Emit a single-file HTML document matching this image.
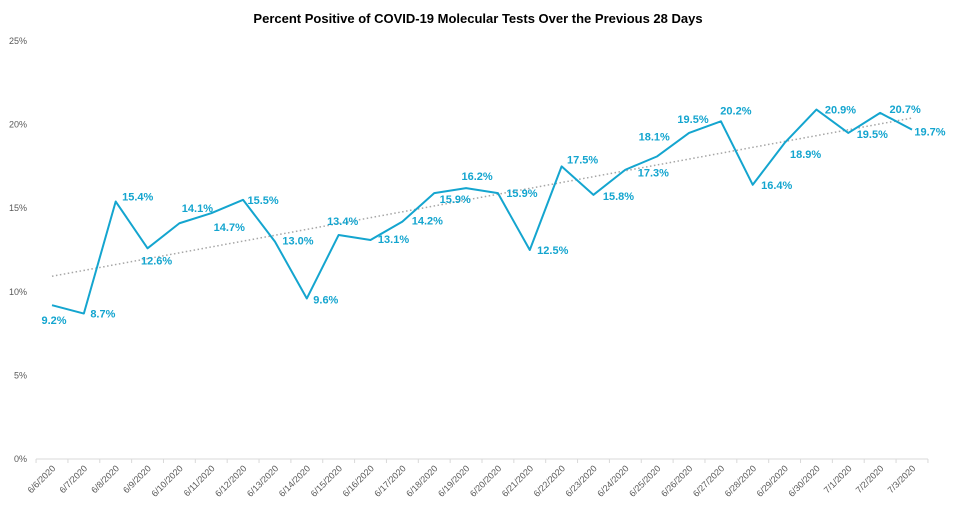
<!DOCTYPE html>
<html><head><meta charset="utf-8"><style>
body{margin:0;background:#fff;font-family:"Liberation Sans",sans-serif}
</style></head><body>
<svg id="chart" width="955" height="519" xmlns="http://www.w3.org/2000/svg"></svg>
<script>
const categories=["6/6/2020","6/7/2020","6/8/2020","6/9/2020","6/10/2020","6/11/2020","6/12/2020","6/13/2020","6/14/2020","6/15/2020","6/16/2020","6/17/2020","6/18/2020","6/19/2020","6/20/2020","6/21/2020","6/22/2020","6/23/2020","6/24/2020","6/25/2020","6/26/2020","6/27/2020","6/28/2020","6/29/2020","6/30/2020","7/1/2020","7/2/2020","7/3/2020"];
const values=[9.2,8.7,15.4,12.6,14.1,14.7,15.5,13.0,9.6,13.4,13.1,14.2,15.9,16.2,15.9,12.5,17.5,15.8,17.3,18.1,19.5,20.2,16.4,18.9,20.9,19.5,20.7,19.7];
const yTicks=[0,5,10,15,20,25];
const labelDx=[2,19,22,9,18,18,20,23,19,4,23,25,21,11,24,23,21,25,28,-3,4,15,24,21,24,24,25,18];
const labelDy=[19,4,-1,16,-11,18,4,3,5,-10,3,3,10,-8,4,4,-3,5,7,-16,-10,-7,4,15,4,5,0,6];
const svg=document.getElementById('chart');
const NS="http://www.w3.org/2000/svg";
const x0=52,x1=912,yb=459,yt=41;
const step=(x1-x0)/(categories.length-1);
const X=i=>x0+i*step;
const Y=v=>yb-(v/25)*(yb-yt);
function mk(t,a,txt){const e=document.createElementNS(NS,t);for(const k in a)e.setAttribute(k,a[k]);if(txt!=null)e.textContent=txt;svg.appendChild(e);return e;}
let e=mk('text',{x:478,y:23,'text-anchor':'middle','font-size':'13','font-weight':'bold',fill:'#000'},'Percent Positive of COVID-19 Molecular Tests Over the Previous 28 Days');


yTicks.forEach(t=>{const l=mk('text',{x:27,y:Y(t)+3,'text-anchor':'end','font-size':'9',fill:'#595959'},t+'%');

});
e=mk('line',{x1:X(0)-step/2,x2:X(categories.length-1)+step/2,y1:yb,y2:yb,stroke:'#d9d9d9','stroke-width':1});


for(let i=0;i<=categories.length;i++){const t=mk('line',{x1:X(i)-step/2,x2:X(i)-step/2,y1:yb,y2:yb+4,stroke:'#d9d9d9','stroke-width':1});

}
categories.forEach((c,i)=>{const x=X(i);const l=mk('text',{x:0,y:0,'text-anchor':'end','font-size':'9',fill:'#595959',transform:`translate(${x+4},${yb+10}) rotate(-45)`},c);

});
const n=values.length;let sx=0,sy=0,sxy=0,sxx=0;values.forEach((v,i)=>{sx+=i;sy+=v;sxy+=i*v;sxx+=i*i;});
const m=(n*sxy-sx*sy)/(n*sxx-sx*sx),b=(sy-m*sx)/n;
e=mk('line',{x1:X(0),y1:Y(b),x2:X(n-1),y2:Y(b+m*(n-1)),stroke:'#a6a6a6','stroke-width':1.5,'stroke-dasharray':'1.5 2.5'});


e=mk('polyline',{points:values.map((v,i)=>X(i)+','+Y(v)).join(' '),fill:'none',stroke:'#14a5cf','stroke-width':2,'stroke-linejoin':'round'});


values.forEach((v,i)=>{const l=mk('text',{x:X(i)+labelDx[i],y:Y(v)+labelDy[i],'text-anchor':'middle','font-size':'11','font-weight':'bold',fill:'#14a5cf'},v.toFixed(1)+'%');

});
</script>
</body></html>
